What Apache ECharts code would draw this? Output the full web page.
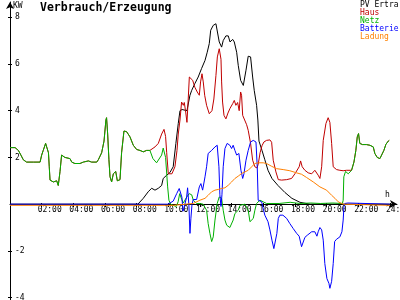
<!DOCTYPE html>
<html>
<head>
<meta charset="utf-8">
<script src="https://cdn.jsdelivr.net/npm/echarts@6/dist/echarts.min.js"></script>
<style>html,body{margin:0;padding:0;background:#fff}#c{width:400px;height:300px}</style>
</head>
<body>
<div id="c"></div>
<script>
// ---- data (hour, kW) ----
const titleText = 'Verbrauch/Erzeugung';
const seriesNames = ['PV Ertra', 'Haus', 'Netz', 'Batterie', 'Ladung'];
const hourTicks = [2, 4, 6, 8, 10, 12, 14, 16, 18, 20, 22, 24];
const kwTicks = [-4, -2, 2, 4, 6, 8];

const pvData = [[0,0],[8.08,0],[8.42,0.25],[8.73,0.53],[8.95,0.68],[9.16,0.6],[9.37,0.68],[9.58,0.8],[9.68,1.1],[9.9,1.24],[10.1,1.35],[10.31,1.6],[10.48,2.6],[10.63,3.45],[10.74,4.0],[10.87,4.05],[11.18,4.0],[11.37,4.66],[11.48,4.87],[11.68,5.16],[11.89,5.44],[12.1,5.8],[12.32,6.15],[12.46,6.5],[12.59,6.87],[12.68,7.44],[12.84,7.65],[13.01,7.72],[13.12,7.65],[13.22,6.94],[13.37,6.72],[13.47,7.0],[13.64,7.2],[13.79,7.2],[13.9,6.94],[14.07,7.05],[14.17,6.94],[14.32,6.5],[14.42,5.94],[14.57,5.3],[14.74,5.08],[14.91,5.73],[15.05,6.33],[15.2,6.3],[15.33,5.44],[15.43,4.87],[15.58,4.23],[15.66,3.6],[15.73,2.7],[15.92,2.3],[16.1,1.9],[16.3,1.45],[16.55,1.1],[16.93,0.8],[17.37,0.5],[17.81,0.25],[18.32,0.08],[18.95,0],[24,0]];

const nightData = [[0,2.42],[0.32,2.42],[0.53,2.3],[0.69,2.1],[0.84,1.9],[1.05,1.8],[1.5,1.8],[1.9,1.8],[2.0,2.1],[2.1,2.3],[2.25,2.6],[2.36,2.66],[2.43,2.2],[2.48,1.6],[2.53,1.03],[2.74,0.95],[2.95,1.0],[3.05,0.8],[3.16,1.4],[3.26,2.1],[3.47,2.0],[3.79,1.95],[3.9,1.8],[4.1,1.74],[4.42,1.74],[4.63,1.8],[4.95,1.85],[5.16,1.8],[5.48,1.8],[5.58,1.9],[5.79,2.2],[5.94,2.7],[6.06,3.6],[6.1,3.7],[6.17,3.0],[6.25,1.9],[6.32,1.17],[6.42,0.95],[6.53,1.3],[6.68,1.4],[6.78,1.0],[6.95,1.05],[7.05,2.2],[7.2,3.13],[7.37,3.1],[7.58,2.88],[7.79,2.52],[8.0,2.34],[8.21,2.3],[8.42,2.24],[8.63,2.3],[8.84,2.3]];

const eveningData = [[21.58,1.45],[21.73,1.8],[21.85,2.3],[21.94,2.88],[22.02,3.02],[22.1,2.6],[22.27,2.55],[22.52,2.55],[22.74,2.52],[22.95,2.45],[23.05,2.17],[23.2,2.0],[23.37,1.95],[23.48,2.0],[23.62,2.3],[23.75,2.56],[23.9,2.7],[23.96,2.73]];

const hausDay = [[9.16,2.45],[9.37,2.6],[9.58,3.0],[9.73,3.2],[9.83,2.9],[9.9,2.2],[10.0,1.3],[10.23,1.3],[10.42,1.6],[10.55,2.3],[10.63,3.0],[10.74,3.6],[10.84,4.37],[10.95,4.23],[11.01,4.35],[11.1,3.94],[11.18,3.5],[11.26,4.5],[11.33,5.44],[11.41,5.44],[11.54,5.3],[11.68,5.0],[11.83,4.8],[11.96,4.66],[12.04,5.23],[12.13,5.58],[12.21,5.23],[12.3,4.66],[12.42,4.23],[12.59,3.87],[12.66,3.8],[12.76,4.0],[12.88,4.5],[13.01,5.5],[13.1,6.3],[13.22,6.65],[13.26,6.72],[13.33,6.2],[13.37,5.23],[13.43,4.37],[13.52,3.8],[13.64,3.65],[13.77,3.9],[13.9,4.1],[14.07,4.3],[14.17,4.44],[14.27,4.23],[14.38,4.35],[14.48,4.0],[14.57,4.8],[14.63,4.66],[14.7,3.8],[14.95,3.4],[15.05,3.16],[15.2,2.6],[15.33,1.88],[15.47,1.6],[15.6,1.55],[15.68,1.7],[15.8,2.2],[15.92,2.5],[16.04,2.66],[16.21,2.73],[16.42,2.75],[16.53,2.65],[16.63,1.88],[16.8,1.38],[16.95,1.05],[17.16,1.03],[17.48,1.05],[17.79,1.1],[18.0,1.3],[18.27,1.6],[18.36,1.85],[18.46,1.6],[18.63,1.45],[18.84,1.34],[19.06,1.3],[19.26,1.45],[19.37,1.52],[19.47,1.24],[19.58,1.1],[19.69,1.6],[19.79,2.73],[19.96,3.45],[20.1,3.7],[20.21,3.5],[20.32,2.6],[20.42,1.6],[20.63,1.48],[20.84,1.45],[21.05,1.43],[21.26,1.45],[21.37,1.38]];

const netzDay = [[9.03,1.95],[9.26,1.77],[9.35,1.8],[9.58,2.1],[9.68,2.4],[9.83,2.0],[9.96,0.74],[10.04,0.17],[10.15,0],[10.3,-0.05],[10.5,-0.1],[10.62,0.1],[10.72,0.45],[10.85,0.2],[10.95,0.05],[11.16,0.3],[11.32,0.45],[11.48,0.4],[11.58,0.17],[11.79,0.03],[12.0,0.03],[12.2,0.0],[12.42,-0.26],[12.52,-0.83],[12.63,-1.25],[12.74,-1.6],[12.84,-1.4],[12.95,-0.68],[13.09,0.03],[13.22,0.31],[13.37,0.25],[13.47,-0.26],[13.58,-0.68],[13.69,-0.9],[13.89,-1.0],[14.0,-0.95],[14.1,-0.68],[14.21,-0.4],[14.32,-0.42],[14.42,-0.26],[14.53,-0.05],[14.63,0.03],[14.84,0.0],[14.95,-0.05],[15.05,-0.26],[15.16,-0.75],[15.27,-0.83],[15.37,-0.61],[15.47,-0.26],[15.58,0.03],[15.79,0.17],[15.9,0.24],[16.0,0.1],[16.21,0.03],[17.0,0.03],[17.7,0.08],[18.3,0.03],[19.0,0.05],[19.6,0.03],[20.4,0.05],[21.0,0.03],[21.05,0.17],[21.09,1.17],[21.2,1.4],[21.37,1.3]];

const batterieData = [[0,0],[9.98,0],[10.31,0.13],[10.53,0.45],[10.69,0.67],[10.8,0.67],[10.86,0.3],[10.93,-0.3],[11.05,0.0],[11.16,0.31],[11.22,0.7],[11.3,0.0],[11.37,-1.25],[11.43,-0.6],[11.5,0.0],[11.58,0.2],[11.79,0.2],[11.96,0.74],[12.06,0.88],[12.17,0.6],[12.32,1.17],[12.42,1.6],[12.52,2.17],[12.74,2.3],[12.95,2.45],[13.09,2.52],[13.2,1.6],[13.26,0.4],[13.33,-0.1],[13.39,0.4],[13.47,1.6],[13.58,2.38],[13.72,2.6],[13.89,2.52],[14.0,2.38],[14.1,2.52],[14.21,2.3],[14.32,2.1],[14.46,2.17],[14.59,1.45],[14.7,1.1],[14.78,1.3],[14.91,1.88],[15.05,2.3],[15.2,2.66],[15.37,2.73],[15.54,2.66],[15.62,1.6],[15.68,0.17],[15.75,0.1],[15.9,0.1],[16.0,-0.2],[16.1,-0.47],[16.3,-0.75],[16.42,-1.1],[16.55,-1.54],[16.67,-1.9],[16.78,-1.95],[16.86,-1.25],[16.95,-0.61],[17.05,-0.47],[17.24,-0.47],[17.48,-0.61],[17.68,-0.83],[17.89,-1.04],[18.11,-1.25],[18.27,-1.37],[18.42,-1.82],[18.52,-1.75],[18.63,-1.42],[18.78,-1.33],[18.88,-1.25],[19.06,-1.18],[19.16,-1.12],[19.26,-1.18],[19.39,-1.37],[19.47,-1.18],[19.58,-1.0],[19.69,-1.1],[19.79,-1.54],[19.89,-2.54],[20.02,-3.18],[20.15,-3.39],[20.21,-3.6],[20.32,-3.3],[20.42,-2.54],[20.51,-1.6],[20.63,-1.5],[20.84,-1.4],[20.97,-1.18],[21.05,-0.68],[21.1,-0.1],[21.16,0.03],[21.35,0.05],[21.47,0],[24,0]];

const ladungData = [[0,-0.05],[10.3,-0.05],[10.42,0.0],[11.58,0.03],[12.0,0.17],[12.32,0.25],[12.52,0.38],[12.74,0.53],[12.95,0.6],[13.16,0.63],[13.37,0.67],[13.58,0.7],[13.79,0.81],[14.0,0.95],[14.21,1.1],[14.42,1.2],[14.63,1.31],[14.84,1.38],[15.05,1.45],[15.27,1.6],[15.47,1.74],[15.68,1.77],[16.0,1.77],[16.21,1.74],[16.53,1.62],[16.84,1.52],[17.26,1.48],[17.68,1.43],[18.11,1.34],[18.42,1.28],[18.74,1.14],[19.16,0.95],[19.58,0.74],[20.0,0.6],[20.32,0.38],[20.53,0.25],[20.74,0.1],[21.05,0.0],[21.1,-0.05],[24,-0.05]];

const hausData = nightData.concat(hausDay, eveningData);
const netzData = nightData.concat(netzDay, eveningData);
const seriesData = [pvData, hausData, netzData, batterieData, ladungData];

// ---- styles / layout ----
const colors = ['#000000', '#c00000', '#00b000', '#0000ff', '#ff8000'];
const mono = "'DejaVu Sans Mono', 'Liberation Mono', monospace";
const Y_MIN = -4.1, Y_MAX = 8.65, X_MAX = 24.45;
const GRID_TOP = 2, GRID_H = 298;
// shift the bottom x axis up so it sits on the zero line
const zeroOffset = -Math.round(GRID_H * (-Y_MIN) / (Y_MAX - Y_MIN));

const chart = echarts.init(document.getElementById('c'), null, {renderer: 'canvas'});

function hourLabel(v) { return (v < 10 ? '0' : '') + v + ':00'; }

chart.setOption({
  animation: false,
  backgroundColor: '#ffffff',
  title: {
    text: titleText, left: 40, top: 2, padding: 0,
    textStyle: {fontFamily: mono, fontSize: 11.5, fontWeight: 'bold', color: '#000'}
  },
  legend: {
    orient: 'vertical', left: 355, top: 1, padding: 0, itemGap: 0,
    itemWidth: 0, itemHeight: 0, align: 'left', selectedMode: false, icon: 'rect',
    textStyle: {fontFamily: mono, fontSize: 8, lineHeight: 8},
    data: seriesNames.map((n, i) => ({name: n, textStyle: {color: colors[i]}}))
  },
  grid: {left: 10, right: 3, top: GRID_TOP, bottom: 300 - GRID_TOP - GRID_H, containLabel: false, outerBoundsMode: 'none'},
  xAxis: [{
    type: 'value', min: 0, max: X_MAX, position: 'bottom', offset: zeroOffset,
    name: 'h', nameLocation: 'end', nameGap: -12,
    nameTextStyle: {fontFamily: mono, fontSize: 8, color: '#000', verticalAlign: 'bottom', padding: [0, 0, 5, 0]},
    axisLine: {onZero: false, symbol: ['none', 'arrow'], symbolSize: [6, 7], lineStyle: {color: '#000', width: 1}},
    axisTick: {show: true, inside: false, length: 3, customValues: hourTicks, lineStyle: {color: '#000'}},
    axisLabel: {customValues: hourTicks, formatter: hourLabel, align: 'left', padding: [0, 0, 0, -4], margin: 2,
      fontFamily: mono, fontSize: 8, color: '#000'},
    splitLine: {show: false}
  }, {
    type: 'value', min: 0, max: X_MAX, position: 'bottom', offset: zeroOffset,
    axisLine: {onZero: false, show: false},
    axisTick: {show: true, inside: true, length: 1, customValues: hourTicks, lineStyle: {color: '#000'}},
    axisLabel: {show: false},
    splitLine: {show: false}
  }],
  yAxis: [{
    type: 'value', min: Y_MIN, max: Y_MAX, position: 'left',
    name: 'KW', nameLocation: 'end', nameGap: 0,
    nameTextStyle: {fontFamily: mono, fontSize: 8, color: '#000', align: 'left', verticalAlign: 'top', padding: [0, 0, 0, 3]},
    axisLine: {onZero: false, symbol: ['none', 'arrow'], symbolSize: [6, 7], lineStyle: {color: '#000', width: 1}},
    axisTick: {show: true, inside: false, length: 2, customValues: kwTicks, lineStyle: {color: '#000'}},
    axisLabel: {customValues: kwTicks, inside: true, margin: 5, fontFamily: mono, fontSize: 8, color: '#000'},
    splitLine: {show: false}
  }, {
    type: 'value', min: Y_MIN, max: Y_MAX, position: 'left',
    axisLine: {onZero: false, show: false},
    axisTick: {show: true, inside: true, length: 2, customValues: kwTicks, lineStyle: {color: '#000'}},
    axisLabel: {show: false},
    splitLine: {show: false}
  }],
  series: seriesNames.map((n, i) => ({
    name: n, type: 'line', data: seriesData[i], xAxisIndex: 0, yAxisIndex: 0,
    showSymbol: false, symbol: 'none', color: colors[i],
    lineStyle: {width: 1, color: colors[i]}, z: 2 + i
  }))
});
</script>
</body>
</html>
